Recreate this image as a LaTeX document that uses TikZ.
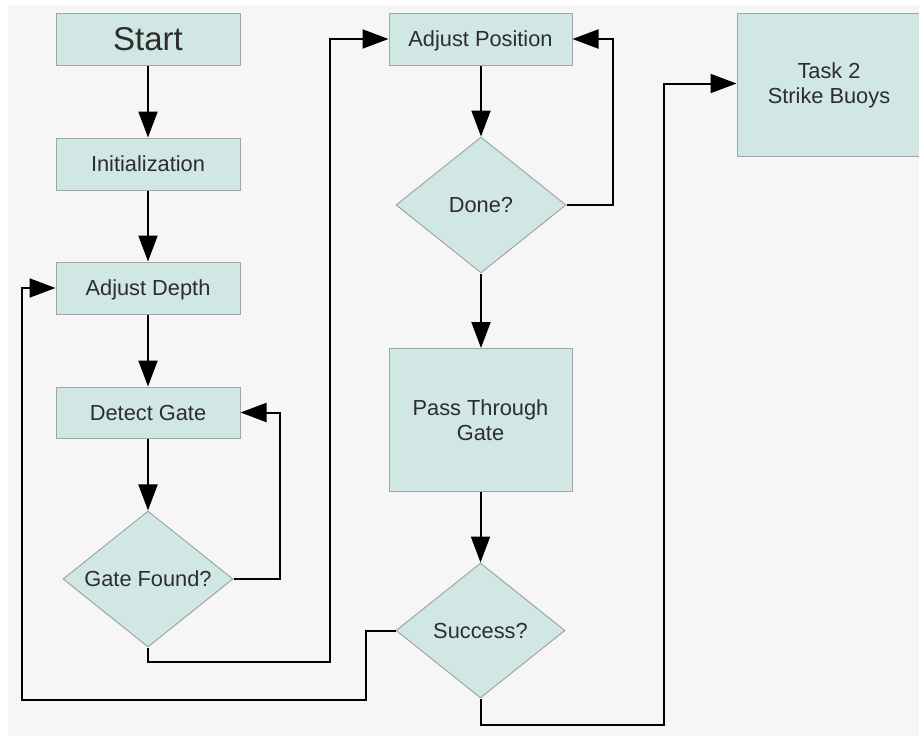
\documentclass[tikz,border=0pt]{standalone}
\usepackage{fontspec}
\setmainfont{Liberation Sans}
\usetikzlibrary{shapes.geometric,arrows.meta}
\definecolor{bgcol}{RGB}{246,246,246}
\definecolor{boxfill}{RGB}{208,231,228}
\definecolor{boxline}{RGB}{160,165,165}
\definecolor{txt}{RGB}{45,45,45}
\tikzset{
  basebox/.style={draw=boxline, fill=boxfill, line width=1pt, text=txt, inner sep=0pt, align=center, font=\fontsize{21.8}{25}\selectfont},
  capc/.style={text height=15.7pt, text depth=0pt},
  rectbox/.style={basebox, rectangle, minimum width=184pt, minimum height=52pt},
  decis/.style={basebox, diamond, shape aspect=1.25, minimum width=170pt, minimum height=136pt},
  arr/.style={line width=2pt, -{Triangle[length=26pt,width=19pt]}},
}
\begin{document}
\begin{tikzpicture}[x=1pt,y=-1pt]
\useasboundingbox (0,0) rectangle (919,736);
\fill[bgcol] (8,5) rectangle (919,736);
% left column
\node[rectbox, font=\fontsize{33}{38}\selectfont, text height=23.8pt, text depth=0pt] (start) at (148,39) {Start};
\node[rectbox, capc] (init) at (148,164) {Initialization};
\node[rectbox, capc] (ad) at (148,288) {Adjust Depth};
\node[rectbox, capc, minimum height=51pt] (dg) at (148,412.5) {Detect Gate};
\node[decis, capc] (gf) at (148,579) {Gate Found?};
% middle column
\node[rectbox, capc, minimum width=183pt] (ap) at (480.5,39) {Adjust Position};
\node[decis, capc] (done) at (481,205) {Done?};
\node[rectbox, minimum width=183pt, minimum height=143pt] (pass) at (480.5,420) {Pass Through\\Gate};
\node[decis, capc, minimum width=169pt, minimum height=135pt] (succ) at (480.5,630.5) {Success?};
% right
\node[rectbox, minimum height=143pt] (t2) at (829,85) {Task 2\\Strike Buoys};
% helper coordinates
\coordinate (c1) at (330,662);
\coordinate (c2) at (366,700);
\coordinate (c3) at (22,700);
\coordinate (c4) at (664,725);
% connectors
\draw[arr] (start) -- (init);
\draw[arr] (init) -- (ad);
\draw[arr] (ad) -- (dg);
\draw[arr] (dg) -- (gf);
\draw[arr] (gf.east) -| ([xshift=39pt]dg.east) -- (dg.east);
\draw[arr] (gf.south) |- (c1) |- (ap.west);
\draw[arr] (ap.south -| done.north) -- (done.north);
\draw[arr] (done.east) -| ([xshift=40pt]ap.east) -- (ap.east);
\draw[arr] (done.south) -- (done.south |- pass.north);
\draw[arr] (pass.south -| succ.north) -- (succ.north);
\draw[arr] (succ.west) -| (c2) -- (c3) |- (ad.west);
\draw[arr] (succ.south) |- (c4) |- ([yshift=1.5pt]t2.west);
\end{tikzpicture}
\end{document}
